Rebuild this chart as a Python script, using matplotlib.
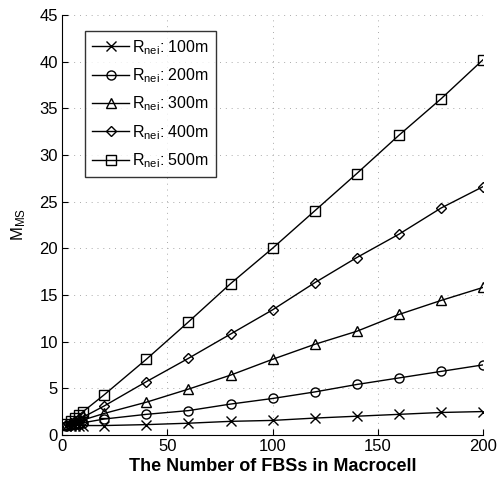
import numpy as np
import matplotlib
matplotlib.use("Agg")
import matplotlib.pyplot as plt

plt.rcParams['font.family'] = ['Liberation Sans', 'DejaVu Sans']
plt.rcParams['mathtext.fontset'] = 'custom'
plt.rcParams['mathtext.rm'] = 'Liberation Sans'
plt.rcParams['mathtext.it'] = 'Liberation Sans'

n_fbs = [2, 4, 6, 8, 10, 20, 40, 60, 80, 100, 120, 140, 160, 180, 200]

m_100 = [1.0, 1.0, 1.0, 1.0, 1.0, 1.0, 1.1, 1.25, 1.45, 1.55, 1.8, 2.0, 2.2, 2.4, 2.5]
m_200 = [1.0, 1.1, 1.15, 1.2, 1.3, 1.7, 2.2, 2.6, 3.3, 3.9, 4.6, 5.4, 6.1, 6.8, 7.5]
m_300 = [1.1, 1.2, 1.3, 1.4, 1.6, 2.3, 3.5, 4.9, 6.4, 8.1, 9.7, 11.1, 12.9, 14.4, 15.8]
m_400 = [1.1, 1.3, 1.5, 1.7, 1.9, 3.1, 5.7, 8.2, 10.8, 13.4, 16.3, 19.0, 21.5, 24.3, 26.6]
m_500 = [1.2, 1.5, 1.8, 2.1, 2.5, 4.3, 8.1, 12.1, 16.2, 20.0, 24.0, 28.0, 32.1, 36.0, 40.2]

series = [(m_100, 'x', '100m'), (m_200, 'o', '200m'), (m_300, '^', '300m'),
          (m_400, 'D', '400m'), (m_500, 's', '500m')]

fig = plt.figure(figsize=(4.97, 4.80), dpi=100)
ax = fig.add_axes([0.125, 0.094, 0.847, 0.875])

for vals, mk, lab in series:
    ms = 5 if mk == 'D' else 6.5
    ax.plot(n_fbs, vals, color='k', lw=1.0, marker=mk, ms=ms,
            mfc='none', mec='k', mew=1.0, label=r'R$_{\mathrm{nei}}$: ' + lab)

ax.set_xlim(0, 200)
ax.set_ylim(0, 45)
ax.set_xticks(np.arange(0, 201, 50))
ax.set_yticks(np.arange(0, 46, 5))
ax.grid(True, color='#aaaaaa', ls=(0, (1, 5)), lw=0.7)
ax.spines['top'].set_visible(False)
ax.spines['right'].set_visible(False)
ax.tick_params(direction='in', labelsize=12, length=4, pad=3)

ax.set_xlabel('The Number of FBSs in Macrocell', fontsize=13, fontweight='bold', labelpad=3)
ax.set_ylabel(r'M$_{\mathrm{MS}}$', fontsize=12, labelpad=8)

leg = ax.legend(loc='upper left', bbox_to_anchor=(0.055, 0.962), borderaxespad=0,
                fontsize=11.5, frameon=True, fancybox=False, edgecolor='k',
                handlelength=2.3, handletextpad=0.15, borderpad=0.45, labelspacing=0.6)
leg.get_frame().set_linewidth(1.0)

fig.savefig('out.png', dpi=100)
